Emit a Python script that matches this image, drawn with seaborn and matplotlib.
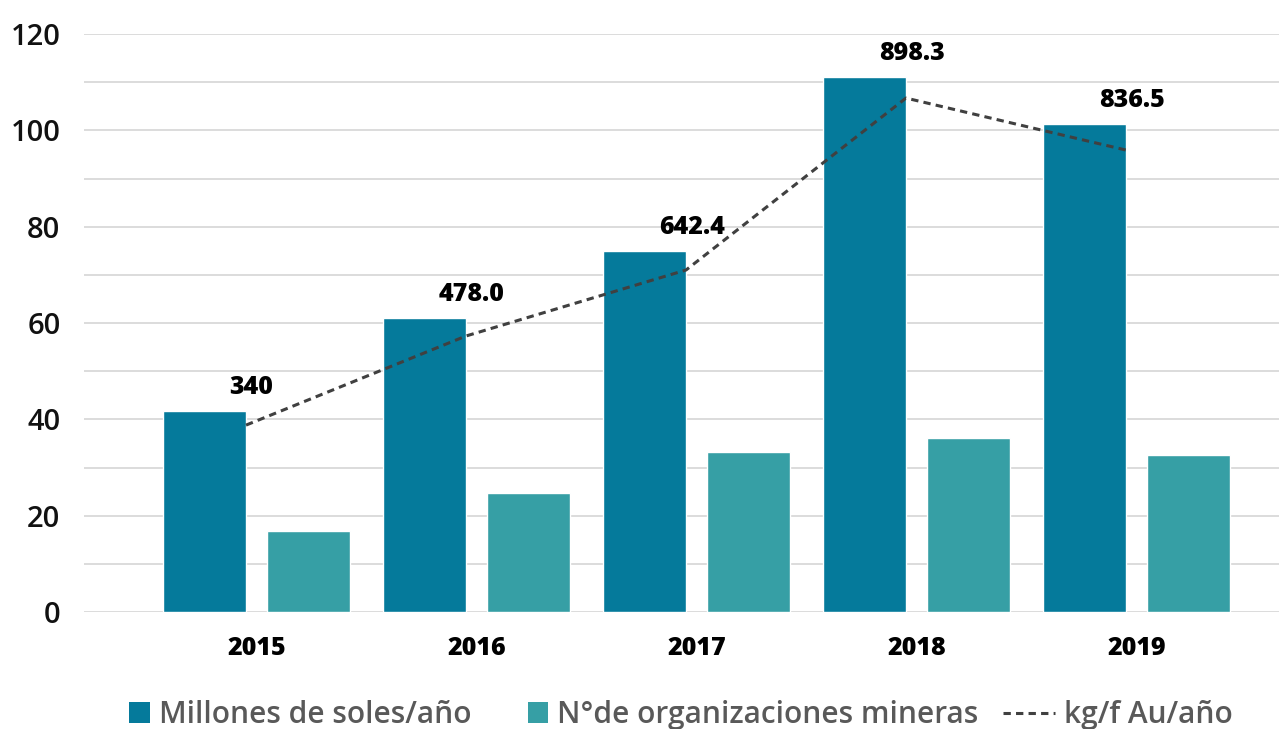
import matplotlib
matplotlib.use('Agg')
import matplotlib.pyplot as plt
import seaborn as sns
import pandas as pd
import numpy as np
from matplotlib.patches import Patch, Rectangle
from matplotlib.lines import Line2D
from matplotlib.ticker import MultipleLocator
from matplotlib.legend_handler import HandlerPatch

# ---- data ----
years = ['2015', '2016', '2017', '2018', '2019']
millones = [41.7, 61.0, 74.9, 111.1, 101.3]
organizaciones = [16.8, 24.7, 33.2, 36.1, 32.6]
kg_line = [38.8, 57.3, 71.0, 106.7, 95.9]
kg_labels = ['340', '478.0', '642.4', '898.3', '836.5']
series_names = ['Millones de soles/año', 'N°de organizaciones mineras', 'kg/f Au/año']

# ---- styles ----
dark = '#057A9B'
light = '#369FA5'
line_col = '#404040'
grid_col = '#D9D9D9'
dash = (0, (2.4, 1.7))
lw = 2.2

sns.set_theme(style='white')
plt.rcParams['font.family'] = ['Open Sans', 'DejaVu Sans']

df = pd.DataFrame({
    'year': years * 2,
    'serie': [series_names[0]] * len(years) + [series_names[1]] * len(years),
    'valor': millones + organizaciones,
})

fig = plt.figure(figsize=(12.79, 7.29), dpi=100)
ax = fig.add_axes([84 / 1279, 117 / 729, 1 - 84 / 1279, 578 / 729])

sns.barplot(data=df, x='year', y='valor', hue='serie', palette=[dark, light],
            width=0.945, gap=0.2, saturation=1, ax=ax, legend=False, zorder=2)

line_offset = -0.0475
xpos = np.arange(len(years)) + line_offset
ax.plot(xpos, kg_line, color=line_col, lw=lw, ls=dash, zorder=3)

for i, lab in enumerate(kg_labels):
    ax.annotate(lab, (xpos[i], millones[i]), xytext=(4, 17),
                textcoords='offset points', ha='center', va='center',
                fontsize=18, fontweight='heavy', color='black', zorder=4)

ax.set_xlim(-0.784, 4.648)
ax.set_ylim(0, 120)
ax.yaxis.set_major_locator(MultipleLocator(20))
ax.yaxis.set_minor_locator(MultipleLocator(10))
ax.grid(which='both', axis='y', color=grid_col, lw=1.3)
ax.grid(which='both', axis='x', visible=False)
ax.set_axisbelow(True)
for s in ax.spines.values():
    s.set_visible(False)
ax.tick_params(axis='both', which='both', length=0)
ax.tick_params(axis='y', pad=17)
ax.tick_params(axis='x', pad=17)
ax.set_xlabel('')
ax.set_ylabel('')
for t in ax.get_yticklabels():
    t.set_fontsize(21)
    t.set_fontweight('semibold')
    t.set_color('#111111')
for t in ax.get_xticklabels():
    t.set_fontsize(18)
    t.set_fontweight('heavy')
    t.set_color('black')


def square_patch(legend, orig_handle, xdescent, ydescent, width, height, fontsize):
    size = 0.68 * fontsize
    return Rectangle((-xdescent + width - size, -ydescent + (height - size) / 2), size, size)


class DashHandler:
    def legend_artist(self, legend, orig_handle, fontsize, handlebox):
        x0, y0 = -handlebox.xdescent, -handlebox.ydescent
        w, h = handlebox.width, handlebox.height
        length = 1.75 * fontsize
        ln = Line2D([x0 + w - length, x0 + w], [y0 + h / 2] * 2,
                    color=orig_handle.get_color(), lw=orig_handle.get_linewidth(),
                    ls=dash, transform=handlebox.get_transform())
        handlebox.add_artist(ln)
        return ln


leg_line = Line2D([], [], color=line_col, lw=lw, ls=dash)
handles = [Patch(facecolor=dark, edgecolor='none'),
           Patch(facecolor=light, edgecolor='none'),
           leg_line]
fig.legend(handles, series_names, loc='center', bbox_to_anchor=(0.517, 1 - 715 / 729),
           ncol=3, frameon=False, handlelength=2.0, handleheight=0.7,
           handletextpad=0.3, columnspacing=0.57, labelcolor='#595959',
           prop={'size': 21.5, 'weight': 'semibold'},
           handler_map={Patch: HandlerPatch(patch_func=square_patch),
                        Line2D: DashHandler()})

fig.savefig('out.png', dpi=100)
